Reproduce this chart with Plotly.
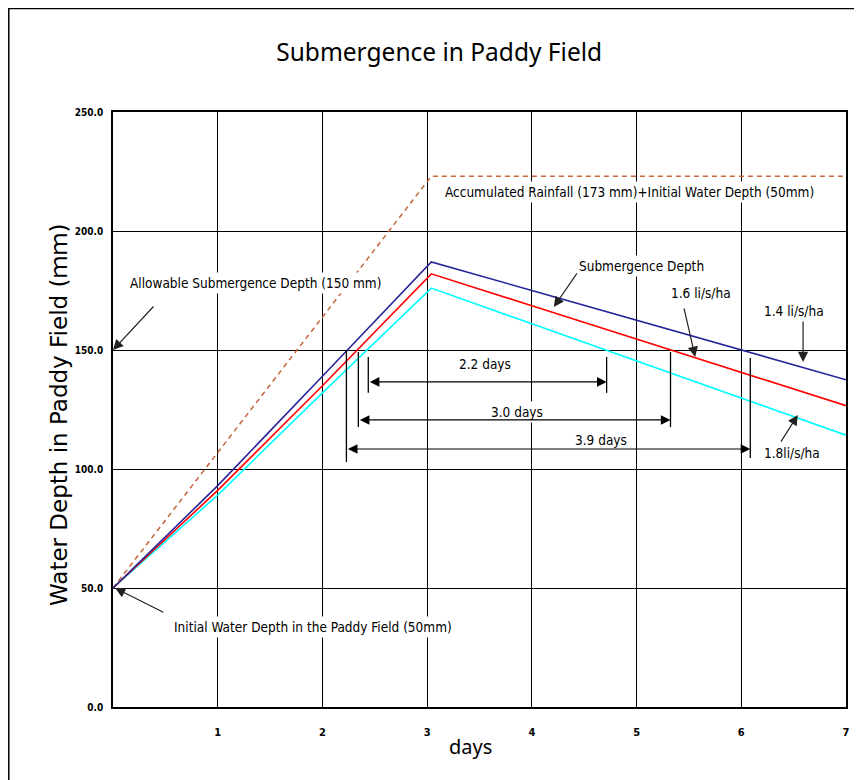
import plotly.graph_objects as go

# ---------------- data ----------------
days = [0, 1, 2, 3.04, 4, 5, 6, 7]
depth_14 = [50, 93, 139, 187, 175, 162.5, 150, 137.5]     # 1.4 li/s/ha
depth_16 = [50, 91, 135, 182, 168.6, 154.6, 140.6, 126.6]  # 1.6 li/s/ha
depth_18 = [50, 89, 132, 176, 161, 145.4, 129.8, 114.2]    # 1.8 li/s/ha
rain_days = [0, 3.04, 7]
rain_depth = [50, 223, 223]

x_ticks = [1, 2, 3, 4, 5, 6, 7]
y_ticks = [0, 50, 100, 150, 200, 250]

# ---------------- annotation layout (positions in data units) ----------------
label_font = dict(family="Liberation Sans Narrow, DejaVu Sans Condensed, Arial Narrow, sans-serif",
                  size=13.5, color="black")

text_labels = [
    ("Allowable Submergence Depth (150 mm)", 0.133, 178.2, "left"),
    ("Accumulated Rainfall (173 mm)+Initial Water Depth (50mm)", 3.14, 216.4, "left"),
    ("Submergence Depth", 4.42, 185.3, "left"),
    ("1.6 li/s/ha", 5.30, 174.0, "left"),
    ("1.4 li/s/ha", 6.19, 166.4, "left"),
    ("1.8li/s/ha", 6.19, 106.7, "left"),
    ("Initial Water Depth in the Paddy Field (50mm)", 0.552, 33.6, "left"),
    ("2.2 days", 3.55, 144.1, "center"),
    ("3.0 days", 3.86, 124.0, "center"),
    ("3.9 days", 4.66, 112.2, "center"),
]

# pointer arrows: (head_x, head_y, tail_x, tail_y)
pointers = [
    (0.0, 150.0, 0.40, 168.9),
    (0.02, 50.0, 0.495, 39.5),
    (4.21, 168.1, 4.44, 182.8),
    (5.56, 147.1, 5.45, 168.1),
    (6.59, 145.0, 6.59, 162.6),
    (6.54, 122.7, 6.37, 110.9),
]

# dimension arrows: (x_left, x_right, y_arrow, y_top_left, y_bot_left, y_top_right, y_bot_right)
dimensions = [
    (2.438, 4.714, 136.6, 147.1, 132.0, 147.1, 132.0),
    (2.343, 5.324, 120.6, 149.2, 117.6, 149.2, 117.6),
    (2.229, 6.086, 108.4, 150.0, 102.9, 146.6, 104.6),
]

fig = go.Figure()

fig.add_trace(go.Scatter(x=rain_days, y=rain_depth, mode="lines",
                         line=dict(color="#c4663a", width=1.5, dash="5px,4px"),
                         showlegend=False, hoverinfo="skip"))
fig.add_trace(go.Scatter(x=days, y=depth_18, mode="lines",
                         line=dict(color="#00ffff", width=1.6), showlegend=False))
fig.add_trace(go.Scatter(x=days, y=depth_16, mode="lines",
                         line=dict(color="#ff0000", width=1.6), showlegend=False))
fig.add_trace(go.Scatter(x=days, y=depth_14, mode="lines",
                         line=dict(color="#25259a", width=1.6), showlegend=False))

annotations = []
for txt, x, y, anc in text_labels:
    annotations.append(dict(x=x, y=y, xref="x", yref="y", text=txt, showarrow=False,
                            xanchor=anc, yanchor="middle", font=label_font,
                            bgcolor="white", borderpad=2))

for hx, hy, tx, ty in pointers:
    annotations.append(dict(x=hx, y=hy, ax=tx, ay=ty, xref="x", yref="y",
                            axref="x", ayref="y", text="", showarrow=True,
                            arrowhead=2, arrowsize=1.7, arrowwidth=1.2,
                            arrowcolor="#222222", standoff=0, startstandoff=0))

shapes = []
for xl, xr, ya, ytl, ybl, ytr, ybr in dimensions:
    annotations.append(dict(x=xr, y=ya, ax=xl, ay=ya, xref="x", yref="y",
                            axref="x", ayref="y", text="", showarrow=True,
                            arrowhead=2, startarrowhead=2, arrowside="end+start",
                            arrowsize=1.6, startarrowsize=1.6, arrowwidth=1.2,
                            arrowcolor="black", standoff=0, startstandoff=0))
    shapes.append(dict(type="line", xref="x", yref="y", x0=xl, x1=xl, y0=ytl, y1=ybl,
                       line=dict(color="black", width=1.3), layer="above"))
    shapes.append(dict(type="line", xref="x", yref="y", x0=xr, x1=xr, y0=ytr, y1=ybr,
                       line=dict(color="black", width=1.3), layer="above"))

# axis titles as annotations
annotations.append(dict(x=-0.094, y=0.491, xref="paper", yref="paper",
                        text="Water Depth in Paddy Field (ｍｍ)", textangle=-90,
                        showarrow=False,
                        font=dict(family="DejaVu Sans, Noto Sans CJK JP", size=23, color="black")))
annotations.append(dict(x=0.488, y=-0.066, xref="paper", yref="paper",
                        text="days", showarrow=False, yanchor="middle",
                        font=dict(family="Noto Sans, DejaVu Sans", size=20, color="black")))

# outer frame
shapes.append(dict(type="rect", xref="paper", yref="paper",
                   x0=-0.1422, x1=1.0122, y0=-0.14, y1=1.1739,
                   line=dict(color="black", width=1.5), layer="above"))

fig.update_layout(
    width=854, height=772,
    margin=dict(l=105, r=14, t=104, b=73),
    paper_bgcolor="white", plot_bgcolor="white",
    title=dict(text="Submergence in Paddy Field", x=0.445, xref="paper", xanchor="center",
               y=1 - 44 / 772, yref="container", yanchor="middle",
               font=dict(family="Noto Sans, DejaVu Sans", size=24.5, color="black")),
    annotations=annotations,
    shapes=shapes,
    showlegend=False,
)

tick_font = dict(family="Liberation Sans Narrow, DejaVu Sans Condensed, Arial Narrow, sans-serif",
                 size=11, color="black", weight="bold")

fig.update_xaxes(range=[0, 7], tickvals=x_ticks, ticktext=[str(v) for v in x_ticks],
                 showgrid=True, gridcolor="black", gridwidth=1.3,
                 showline=True, linecolor="black", linewidth=1.6, mirror=True,
                 zeroline=False, ticks="", tickfont=tick_font, ticklabelstandoff=14)
fig.update_yaxes(range=[0, 250], tickvals=y_ticks, ticktext=[f"{v:.1f}" for v in y_ticks],
                 showgrid=True, gridcolor="black", gridwidth=1.3,
                 showline=True, linecolor="black", linewidth=1.6, mirror=True,
                 zeroline=False, ticks="", tickfont=dict(tick_font, size=10),
                 ticklabelstandoff=6)

fig.write_html("out.html")
